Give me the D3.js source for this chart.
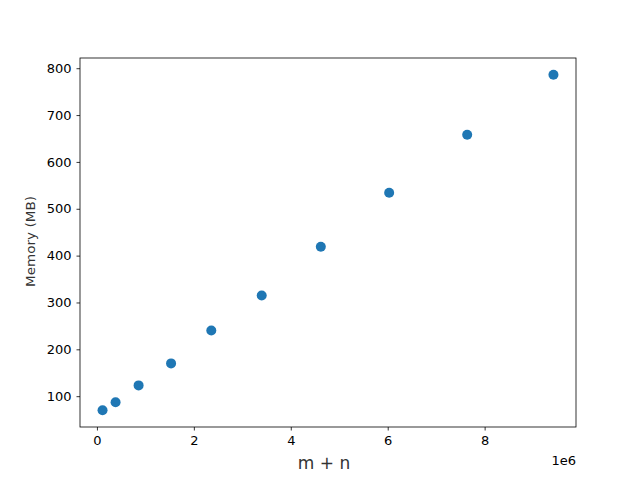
<!DOCTYPE html>
<html>
<head>
<meta charset="utf-8">
<script src="https://cdn.jsdelivr.net/npm/d3@7"></script>
<style>
  body { margin: 0; background: #fff; }
  text { font-family: "DejaVu Sans", sans-serif; }
</style>
</head>
<body>
<div id="chart"></div>
<script>
var svgWidth = 640;
var svgHeight = 480;

var margin = { top: 58, right: 64, bottom: 53, left: 80 };

var width = svgWidth - margin.left - margin.right;
var height = svgHeight - margin.top - margin.bottom;

// data
var sizes = [0.116e6, 0.385e6, 0.86e6, 1.53e6, 2.36e6, 3.40e6, 4.62e6, 6.03e6, 7.64e6, 9.42e6];
var memory = [70, 87, 123, 170, 240, 315, 419, 534, 658, 786];
var xTicks = [0, 2e6, 4e6, 6e6, 8e6];
var yTicks = [100, 200, 300, 400, 500, 600, 700, 800];

var data = sizes.map(function(s, i) { return { size: s, mem: memory[i] }; });

var svg = d3.select("#chart")
  .append("svg")
  .attr("width", svgWidth)
  .attr("height", svgHeight);

var chartGroup = svg.append("g")
  .attr("transform", `translate(${margin.left}, ${margin.top})`);

// matplotlib style 5% margins
var xExt = d3.extent(sizes), yExt = d3.extent(memory);
var xPad = (xExt[1] - xExt[0]) * 0.05, yPad = (yExt[1] - yExt[0]) * 0.05;

var xScale = d3.scaleLinear()
  .domain([xExt[0] - xPad, xExt[1] + xPad])
  .range([0, width]);

var yScale = d3.scaleLinear()
  .domain([yExt[0] - yPad, yExt[1] + yPad])
  .range([height, 0]);

var bottomAxis = d3.axisBottom(xScale)
  .tickValues(xTicks)
  .tickFormat(d => d / 1e6)
  .tickSizeOuter(0)
  .tickSize(3.5)
  .tickPadding(5);

var leftAxis = d3.axisLeft(yScale)
  .tickValues(yTicks)
  .tickSizeOuter(0)
  .tickSize(3.5)
  .tickPadding(5);

var xAxisG = chartGroup.append("g")
  .attr("transform", `translate(0, ${height})`)
  .call(bottomAxis);

var yAxisG = chartGroup.append("g")
  .call(leftAxis);

[xAxisG, yAxisG].forEach(function(g) {
  g.select(".domain").remove();
  g.selectAll("line").attr("stroke", "#000").attr("stroke-width", 0.8);
  g.selectAll("text").attr("font-size", "13px").attr("fill", "#000")
    .attr("font-family", "DejaVu Sans, sans-serif");
});

// frame
chartGroup.append("rect")
  .attr("x", 0).attr("y", 0)
  .attr("width", width).attr("height", height)
  .attr("fill", "none")
  .attr("stroke", "#000")
  .attr("stroke-width", 0.8);

chartGroup.selectAll("circle")
  .data(data)
  .enter()
  .append("circle")
  .attr("cx", d => xScale(d.size))
  .attr("cy", d => yScale(d.mem))
  .attr("r", 5)
  .attr("fill", "#1f77b4");

// offset text
chartGroup.append("text")
  .attr("x", width)
  .attr("y", height + 38)
  .attr("text-anchor", "end")
  .attr("font-size", "13px")
  .text("1e6");

// axis labels
chartGroup.append("text")
  .attr("x", width / 2 - 4)
  .attr("y", height + 42)
  .attr("text-anchor", "middle")
  .attr("font-size", "17px")
  .attr("fill", "#333")
  .text("m + n");

chartGroup.append("text")
  .attr("transform", "rotate(-90)")
  .attr("x", 0 - (height / 2) + 1)
  .attr("y", 0 - margin.left + 35)
  .attr("text-anchor", "middle")
  .attr("font-size", "12.5px")
  .attr("textLength", 91)
  .attr("lengthAdjust", "spacingAndGlyphs")
  .attr("fill", "#333")
  .text("Memory (MB)");
</script>
</body>
</html>
